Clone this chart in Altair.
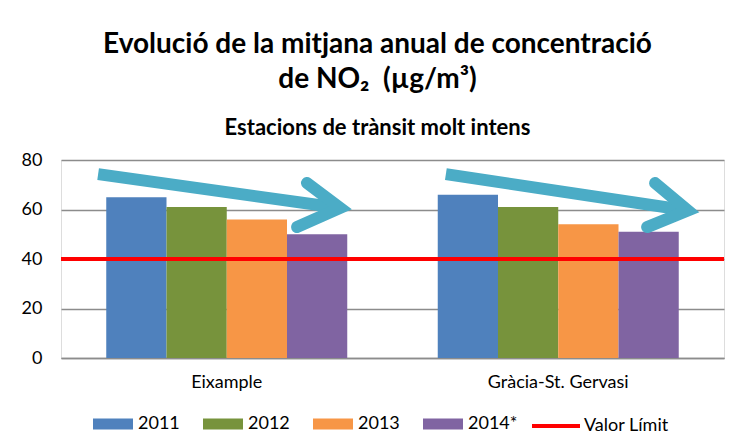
import altair as alt
import pandas as pd

stations = ["Eixample", "Gràcia-St. Gervasi"]
years = ["2011", "2012", "2013", "2014*"]
values_eixample = [65, 61, 56, 50]
values_gracia = [66, 61, 54, 51]
bar_colors = ["#4F81BD", "#77933C", "#F79646", "#8064A2"]

limit_value = [40]
limit_label = ["Valor Límit"]

# decorative trend arrows (x in group units 0..2, y in µg/m³)
arrow_seg = ["s1", "s1", "h1", "h1", "h1", "s2", "s2", "h2", "h2", "h2"]
arrow_ord = [0, 1, 0, 1, 2, 0, 1, 0, 1, 2]
arrow_x = [0.112, 0.842, 0.742, 0.842, 0.712, 1.161, 1.891, 1.792, 1.891, 1.768]
arrow_y = [74.3, 60.6, 70.7, 60.6, 52.9, 74.3, 59.6, 70.7, 59.6, 52.9]

rows = []
for st, vals in zip(stations, [values_eixample, values_gracia]):
    for yr, v in zip(years, vals):
        rows.append({"station": st, "year": yr, "value": v})
df_bars = pd.DataFrame(rows)
df_limit = pd.DataFrame({"valor": limit_value, "serie": limit_label})
df_arrows = pd.DataFrame({"seg": arrow_seg, "ord": arrow_ord, "ax": arrow_x, "ay": arrow_y})
df_shaft = df_arrows[df_arrows["seg"].str.startswith("s")]
df_head = df_arrows[df_arrows["seg"].str.startswith("h")]

FONT = "Lato"

bars = alt.Chart(df_bars).mark_bar().encode(
    x=alt.X("station:N", sort=stations, title=None,
            scale=alt.Scale(paddingInner=0.273, paddingOuter=0.1365),
            axis=alt.Axis(labelAngle=0, ticks=False, tickSize=0, domain=True,
                          domainColor="#8C8C8C", domainWidth=1.5,
                          labelFont=FONT, labelFontSize=18, labelColor="#000000",
                          labelPadding=15)),
    xOffset=alt.XOffset("year:N", sort=years),
    y=alt.Y("value:Q", title=None,
            scale=alt.Scale(domain=[0, 80]),
            axis=alt.Axis(values=[0, 20, 40, 60, 80], domain=False, ticks=False,
                          grid=True, gridColor="#8C8C8C", gridWidth=1.5,
                          labelFont=FONT, labelFontSize=18, labelColor="#000000",
                          labelPadding=19)),
    fill=alt.Fill("year:N", sort=years,
                  scale=alt.Scale(domain=years, range=bar_colors),
                  legend=alt.Legend(title=None, orient="none", direction="horizontal",
                                    legendX=32, legendY=244,
                                    symbolType="M-1,-0.275H1V0.275H-1Z", symbolSize=1600,
                                    symbolStrokeWidth=0, symbolOpacity=1,
                                    labelFont=FONT, labelFontSize=18, labelColor="#000000",
                                    labelOffset=5, columnPadding=23, padding=0)),
)

rule = alt.Chart(df_limit).mark_rule(strokeWidth=4).encode(
    y=alt.Y("valor:Q"),
    stroke=alt.Stroke("serie:N", scale=alt.Scale(domain=limit_label, range=["#FF0000"]),
                      legend=alt.Legend(title=None, orient="none", direction="horizontal",
                                        legendX=469, legendY=240,
                                        symbolType="stroke", symbolSize=2304,
                                        symbolStrokeWidth=4,
                                        labelFont=FONT, labelFontSize=18, labelColor="#000000",
                                        labelOffset=2, padding=0)),
)

shaft = alt.Chart(df_shaft).mark_line(strokeWidth=12, color="#4BACC6", strokeCap="butt").encode(
    x=alt.X("ax:Q", scale=alt.Scale(domain=[0, 2]), axis=None),
    y=alt.Y("ay:Q"),
    detail="seg:N",
    order="ord:Q",
)
head = alt.Chart(df_head).mark_line(strokeWidth=12, color="#4BACC6", strokeCap="round",
                                     strokeJoin="miter", strokeMiterLimit=10).encode(
    x=alt.X("ax:Q", scale=alt.Scale(domain=[0, 2]), axis=None),
    y=alt.Y("ay:Q"),
    detail="seg:N",
    order="ord:Q",
)
arrows = alt.layer(shaft, head)

chart = alt.layer(bars, rule, arrows).resolve_scale(x="independent").properties(
    width=663,
    height=198,
    autosize="none",
    padding={"left": 53, "top": 152, "right": 2, "bottom": 79},
    title=alt.TitleParams(
        text=["Evolució de la mitjana anual de concentració", "de NO₂\u00a0 (µg/m³)"],
        subtitle="Estacions de trànsit molt intens",
        font=FONT, fontSize=28, fontWeight="bold", color="#000000",
        lineHeight=35,
        subtitleFont=FONT, subtitleFontSize=22, subtitleFontWeight="bold",
        subtitleColor="#000000", subtitlePadding=24,
        anchor="middle", dx=-15, offset=-16,
    ),
).configure_view(stroke=None).configure(background="white")

chart.save("out.html", embed_options={"renderer": "svg", "actions": False})
